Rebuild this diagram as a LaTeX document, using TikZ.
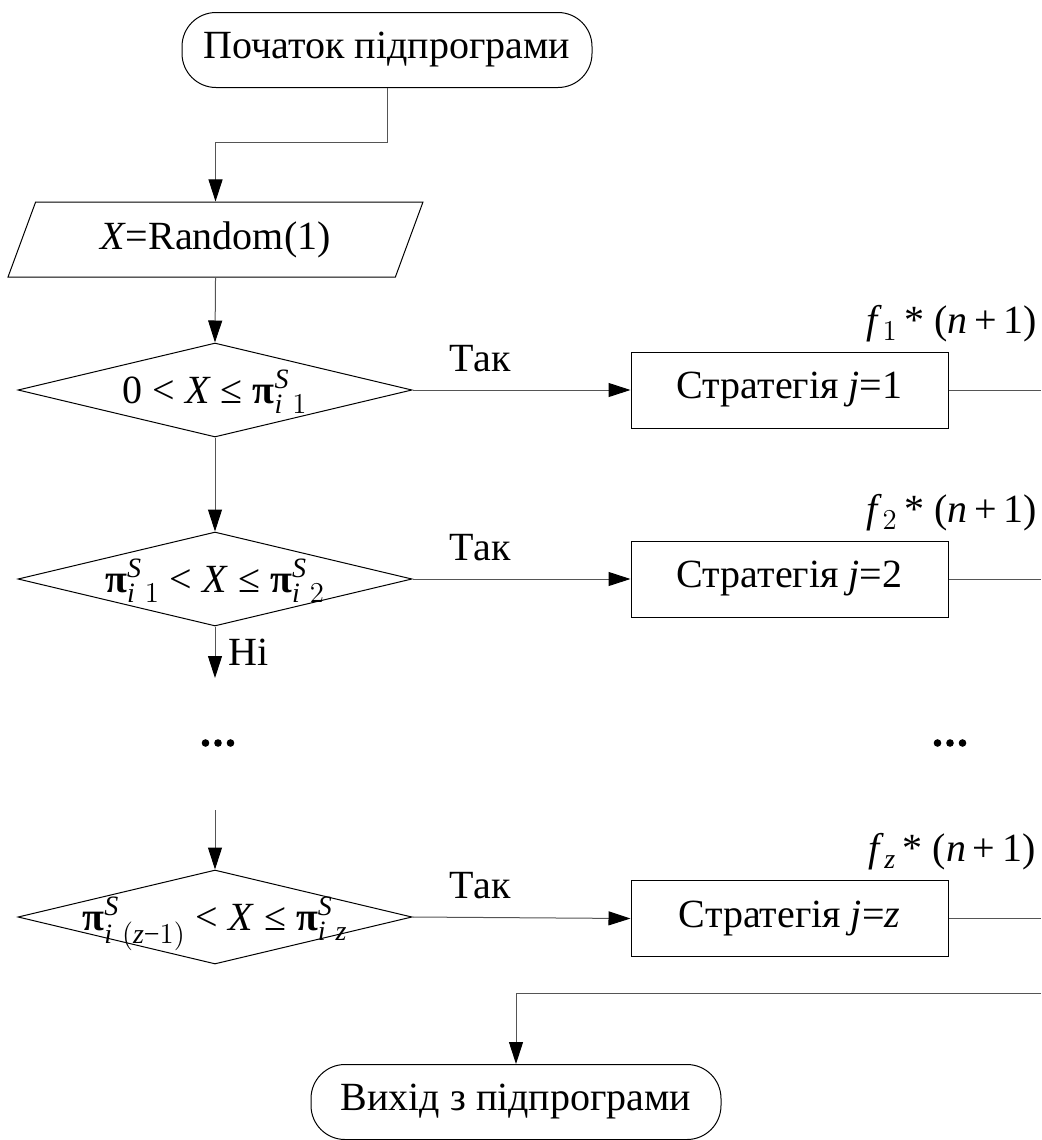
\documentclass[tikz,border=0pt]{standalone}
\usepackage{fontspec}
\usepackage{amsmath}
\setmainfont{Liberation Serif}
\usetikzlibrary{positioning, shapes.geometric, arrows.meta, calc}
\definecolor{linegray}{HTML}{555555}
\newcommand{\piSub}[1]{{\bfseries π}$^{\textit{S}}_{#1}$}
\newcommand{\fLab}[1]{\textit{f}$_{#1}$\,* (\textit{n}\,+\,1)}
\newcommand{\flatText}[1]{\raisebox{-0.33em}[0pt][0pt]{#1}}

\tikzset{
  term/.style={draw, rounded corners=17pt, minimum width=205pt, minimum height=37.5pt, inner sep=0pt},
  io/.style={draw, trapezium, trapezium left angle=64, trapezium right angle=116,
             trapezium stretches=true, minimum width=207.5pt, minimum height=37.5pt, inner sep=0pt},
  cond/.style={draw, diamond, shape aspect=4.2, minimum width=197pt, minimum height=47pt, inner sep=0pt},
  proc/.style={draw, minimum width=158.5pt, minimum height=38pt, inner sep=0pt},
  flow/.style={draw=linegray, -{Triangle[length=11pt, width=7pt, color=black]}},
  wire/.style={draw=linegray},
}

\begin{document}
\begin{tikzpicture}[x=0.5pt, y=-0.5pt, line width=0.5pt, font=\fontsize{20}{24}\selectfont]
  \useasboundingbox (0,0) rectangle (1041,1140);

  % left column
  \node[term] (start) at (387,50) {Початок підпрограми};
  \node[io] (rnd) at (215.5,239.5) {\textit{X}=Random(1)};
  \node[cond] (c1) at (215,390) {\flatText{0 < \textit{X} ≤ \piSub{\textit{i}\ 1}}};
  \node[cond] (c2) at (215,579) {\flatText{\piSub{\textit{i}\ 1} < \textit{X} ≤ \piSub{\textit{i}\ 2}}};
  \node[cond] (c3) at (215,917) {\flatText{\piSub{\textit{i}\ (\textit{z}−1)} < \textit{X} ≤ \piSub{\textit{i}\ \textit{z}}}};
  \node[term] (stop) at (516,1102) {Вихід з підпрограми};

  % strategies
  \node[proc] (s1) at (789.5,390) {Стратегія \textit{j}=1};
  \node[proc] (s2) at (789.5,579) {Стратегія \textit{j}=2};
  \node[proc] (s3) at (789.5,918.5) {Стратегія \textit{j}=\textit{z}};
  \node (f1) at (952,324) {\fLab{1}};
  \node (f2) at (952,513) {\fLab{2}};
  \node (f3) at (952,852) {\fLab{\textit{z}}};

  \coordinate (e1) at (1041,390);
  \coordinate (e2) at (1041,579);
  \coordinate (e3) at (1041,918.5);
  \coordinate (ej) at (1041,993);
  \coordinate (no) at (215,678);
  \coordinate (cont) at (215,810);
  \coordinate (dl) at (218,743);
  \coordinate (dr) at (950,743);

  % dots
  \foreach \d in {-12.5,0,12.5} {
    \fill ([xshift=\d*0.5pt]dl) circle[radius=1.9pt];
    \fill ([xshift=\d*0.5pt]dr) circle[radius=1.9pt];
  }

  % connectors
  \draw[flow] (start.south) -- ++(0,54.5) -| (rnd.north);
  \draw[flow] (rnd.south) -- (c1.north);
  \draw[flow] (c1.south) -- (c2.north);
  \draw[flow] (c2.south) -- node[right, xshift=3pt] {Ні} (no);
  \draw[flow] (cont) -- (c3.north);
  \draw[flow] (c1.east) -- node[above=5.5pt, pos=0.31] {Так} (s1.west);
  \draw[flow] (c2.east) -- node[above=5.5pt, pos=0.31] {Так} (s2.west);
  \draw[flow] (c3.east) -- node[above=5.5pt, pos=0.31] {Так} (s3.west);
  \draw[wire] (s1.east) -- (e1);
  \draw[wire] (s2.east) -- (e2);
  \draw[wire] (s3.east) -- (e3);
  \draw[flow] (ej) -| (stop.north);
\end{tikzpicture}
\end{document}
